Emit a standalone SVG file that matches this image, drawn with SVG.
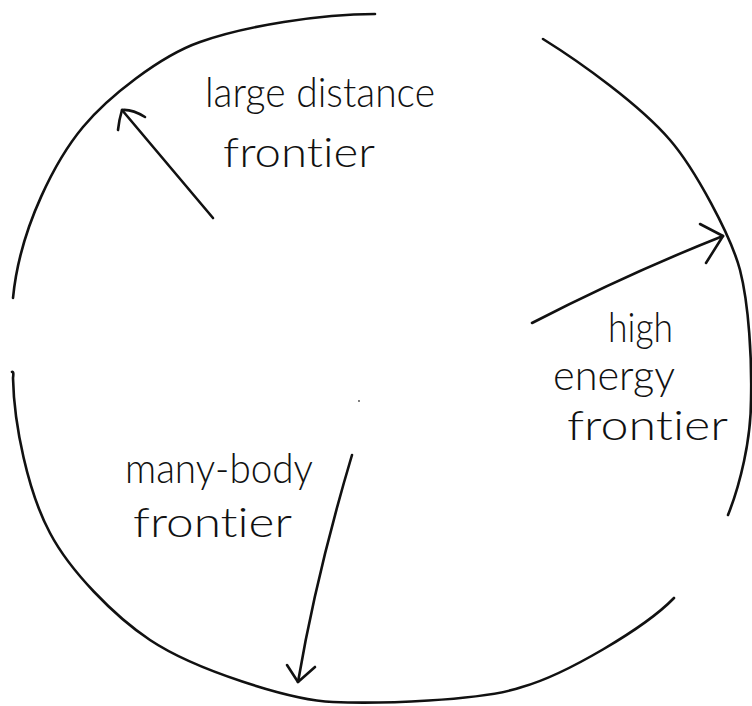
<svg xmlns="http://www.w3.org/2000/svg" width="752" height="706" viewBox="0 0 752 706">
  <style>
    .ink { fill: none; stroke: #111; stroke-width: 2.6; stroke-linecap: round; stroke-linejoin: round; }
    .hand { font-family: Lato, "Liberation Sans", sans-serif; font-weight: 300; font-size: 42px; fill: #111; font-variant-ligatures: none; font-feature-settings: "liga" 0, "dlig" 0; }
  </style>
  <rect width="752" height="706" fill="#fff"/>
  <g id="circle">
    <path class="ink" d="M375,14 C320,14 245,26 200,42 C160,56 108,97 83,127 C58,157 20,225 13,298"/>
    <path class="ink" d="M543,39 C580,62 640,105 670,140 C695,169 731,236 740,270 C749,305 752,360 751,400 C751,440 740,485 728,515"/>
    <path class="ink" d="M12,372 Q14,371 13,378 C14,425 28,492 50,533 C70,571 114,616 150,640 C195,670 290,700 333,702 C376,704 482,701 522,687 C565,675 645,628 674,598"/>
    <circle cx="359" cy="401" r="0.9" fill="#444"/>
  </g>
  <g id="connectors">
    <g id="arrow-large-distance">
      <path class="ink" d="M213,218 L122,110"/>
      <path class="ink" d="M145,117 Q132,109 122,110 Q119,120 118,130"/>
    </g>
    <g id="arrow-high-energy">
      <path class="ink" d="M532,323 Q627,274 723,236"/>
      <path class="ink" d="M700,224 L723,236 L706,263"/>
    </g>
    <g id="arrow-many-body">
      <path class="ink" d="M352,455 Q316,576 298,682"/>
      <path class="ink" d="M287,665 L298,682 L315,667"/>
    </g>
  </g>
  <g id="label-large-distance">
    <text class="hand" x="205" y="107" textLength="230" lengthAdjust="spacingAndGlyphs">large distance</text>
    <text class="hand" x="223" y="167" textLength="152" lengthAdjust="spacingAndGlyphs">frontier</text>
  </g>
  <g id="label-high-energy">
    <text class="hand" x="608" y="342" textLength="65" lengthAdjust="spacingAndGlyphs">high</text>
    <text class="hand" x="553" y="390" textLength="122" lengthAdjust="spacingAndGlyphs">energy</text>
    <text class="hand" x="567" y="440" textLength="161" lengthAdjust="spacingAndGlyphs">frontier</text>
  </g>
  <g id="label-many-body">
    <text class="hand" x="125" y="483" textLength="188" lengthAdjust="spacingAndGlyphs">many-body</text>
    <text class="hand" x="133" y="537" textLength="159" lengthAdjust="spacingAndGlyphs">frontier</text>
  </g>
</svg>
